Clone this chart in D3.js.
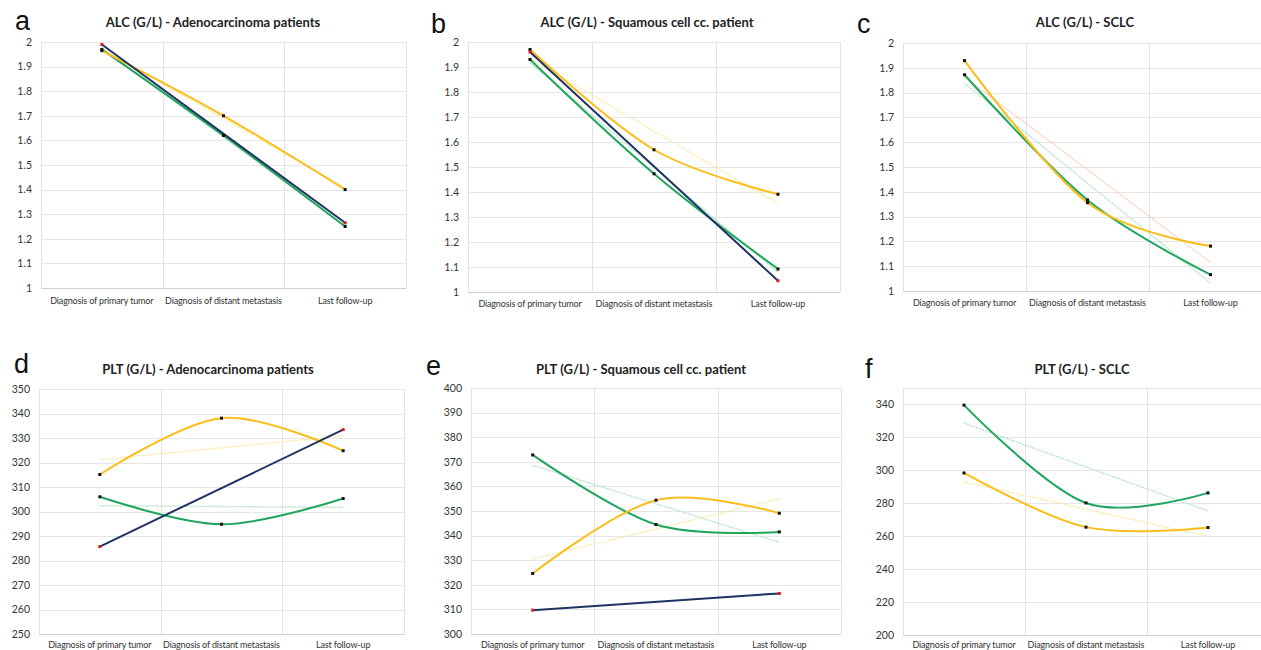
<!DOCTYPE html>
<html>
<head>
<meta charset="utf-8">
<script src="https://cdn.jsdelivr.net/npm/d3@7"></script>
<style>
  body { margin: 0; background: #fff; }
  svg { display: block; }
</style>
</head>
<body>
<div id="chart"></div>
<script>
var stages = ["Diagnosis of primary tumor", "Diagnosis of distant metastasis", "Last follow-up"];

// ALC (G/L)
var alcAdenoGreen  = [1.97, 1.62, 1.25];
var alcAdenoYellow = [1.965, 1.70, 1.40];
var alcAdenoNavy   = [1.99, null, 1.265];
var alcSquamGreen  = [1.93, 1.473, 1.092];
var alcSquamYellow = [1.97, 1.569, 1.391];
var alcSquamNavy   = [1.96, null, 1.045];
var alcSclcGreen   = [1.872, 1.367, 1.066];
var alcSclcYellow  = [1.929, 1.356, 1.181];

// PLT (G/L)
var pltAdenoGreen  = [306, 294.8, 305.3];
var pltAdenoYellow = [315.1, 338.1, 324.8];
var pltAdenoNavy   = [285.7, null, 333.4];
var pltSquamGreen  = [372.8, 344.5, 341.5];
var pltSquamYellow = [324.6, 354.4, 349.1];
var pltSquamNavy   = [309.7, null, 316.5];
var pltSclcGreen   = [339.6, 280.2, 286.3];
var pltSclcYellow  = [298.4, 265.5, 265.3];

// tick labels
var alcTicks      = [1, 1.1, 1.2, 1.3, 1.4, 1.5, 1.6, 1.7, 1.8, 1.9, 2];
var pltAdenoTicks = [250, 260, 270, 280, 290, 300, 310, 320, 330, 340, 350];
var pltSquamTicks = [300, 310, 320, 330, 340, 350, 360, 370, 380, 390, 400];
var pltSclcTicks  = [200, 220, 240, 260, 280, 300, 320, 340];

var GREEN = "#1fa65c", YELLOW = "#fbbd1a", NAVY = "#1f3363";
var GREEN_T = "#a8dfc0", YELLOW_T = "#fbe596", SALMON_T = "#f8c8aa";

var panels = [
  { letter: "a", lx: 15, ly: 30, title: "ALC (G/L) - Adenocarcinoma patients", tx: 213, ty: 27,
    left: 41, right: 406, top: 42, bottom: 288, domain: [1, 2], ticks: alcTicks, labelY: 304,
    series: [[alcAdenoGreen, GREEN, GREEN_T], [alcAdenoYellow, YELLOW, YELLOW_T], [alcAdenoNavy, NAVY, null]] },
  { letter: "b", lx: 431, ly: 33, title: "ALC (G/L) - Squamous cell cc. patient", tx: 647, ty: 27,
    left: 468, right: 840, top: 42, bottom: 292, domain: [1, 2], ticks: alcTicks, labelY: 307,
    series: [[alcSquamGreen, GREEN, GREEN_T], [alcSquamYellow, YELLOW, YELLOW_T], [alcSquamNavy, NAVY, null]] },
  { letter: "c", lx: 857, ly: 33, title: "ALC (G/L) - SCLC", tx: 1085, ty: 27,
    left: 903, right: 1272, top: 43, bottom: 291, domain: [1, 2], ticks: alcTicks, labelY: 306,
    series: [[alcSclcGreen, GREEN, GREEN_T], [alcSclcYellow, YELLOW, SALMON_T]] },
  { letter: "d", lx: 14, ly: 373, title: "PLT (G/L) - Adenocarcinoma patients", tx: 208, ty: 374,
    left: 39, right: 404, top: 389, bottom: 634, domain: [250, 350], ticks: pltAdenoTicks, labelY: 648,
    series: [[pltAdenoGreen, GREEN, GREEN_T], [pltAdenoYellow, YELLOW, YELLOW_T], [pltAdenoNavy, NAVY, null]] },
  { letter: "e", lx: 426, ly: 375, title: "PLT (G/L) - Squamous cell cc. patient", tx: 641, ty: 374,
    left: 471, right: 841, top: 388, bottom: 634, domain: [300, 400], ticks: pltSquamTicks, labelY: 648,
    series: [[pltSquamGreen, GREEN, GREEN_T], [pltSquamYellow, YELLOW, YELLOW_T], [pltSquamNavy, NAVY, null]] },
  { letter: "f", lx: 865, ly: 378, title: "PLT (G/L) - SCLC", tx: 1082, ty: 374,
    left: 903, right: 1269, top: 388, bottom: 635, domain: [200, 350], ticks: pltSclcTicks, labelY: 648,
    series: [[pltSclcGreen, GREEN, GREEN_T], [pltSclcYellow, YELLOW, YELLOW_T]] }
];

var svg = d3.select("#chart").append("svg")
    .attr("width", 1261)
    .attr("height", 650);

var lineGen = d3.line().curve(d3.curveCardinal.tension(0));

panels.forEach(function (p) {
  var g = svg.append("g");
  var x = d3.scaleBand().domain(stages).range([p.left, p.right]);
  var y = d3.scaleLinear().domain(p.domain).range([p.bottom, p.top]);
  var cx = function (s) { return x(s) + x.bandwidth() / 2; };

  // horizontal gridlines
  var hLines = p.ticks.slice();
  if (hLines[hLines.length - 1] < p.domain[1]) hLines.push(p.domain[1]);
  g.selectAll(".hg").data(hLines).enter().append("line")
    .attr("x1", p.left).attr("x2", p.right)
    .attr("y1", function (d) { return Math.round(y(d)) + 0.5; })
    .attr("y2", function (d) { return Math.round(y(d)) + 0.5; })
    .attr("stroke", function (d) { return d === p.domain[0] ? "#d0d0d0" : "#e6e6e6"; })
    .attr("stroke-width", 1);

  // vertical gridlines at category borders
  var vLines = stages.map(function (s) { return x(s); }).concat([p.right]);
  g.selectAll(".vg").data(vLines).enter().append("line")
    .attr("x1", function (d) { return Math.round(d) + 0.5; })
    .attr("x2", function (d) { return Math.round(d) + 0.5; })
    .attr("y1", p.top).attr("y2", p.bottom)
    .attr("stroke", "#e3e3e3");

  // y tick labels
  var yAxis = d3.axisLeft(y).tickValues(p.ticks).tickSize(0).tickPadding(9)
    .tickFormat(function (d) { return String(d); });
  var ax = g.append("g").attr("transform", "translate(" + p.left + ",0)").call(yAxis);
  ax.select(".domain").remove();
  ax.selectAll("text")
    .attr("font-family", "Lato, 'Open Sans', sans-serif")
    .attr("font-size", 10.5).attr("fill", "#333");

  // x labels
  g.selectAll(".xl").data(stages).enter().append("text")
    .attr("x", cx).attr("y", p.labelY)
    .attr("text-anchor", "middle")
    .attr("font-family", "Lato, 'Open Sans', sans-serif")
    .attr("font-size", 9).attr("letter-spacing", "-0.15")
    .attr("fill", "#333")
    .text(function (d) { return d; });

  // title and panel letter
  g.append("text").attr("x", p.tx).attr("y", p.ty).attr("text-anchor", "middle")
    .attr("font-family", "Lato, 'Open Sans', sans-serif").attr("font-weight", "bold")
    .attr("font-size", 13).attr("fill", "#222").text(p.title);
  g.append("text").attr("x", p.lx).attr("y", p.ly)
    .attr("font-family", "'Liberation Sans', Arial, sans-serif")
    .attr("font-size", 27).attr("fill", "#111").text(p.letter);

  // linear trendlines (least squares over the defined points)
  p.series.forEach(function (s) {
    if (!s[2]) return;
    var pts = s[0].map(function (v, i) { return [i, v]; }).filter(function (d) { return d[1] != null; });
    var mx = d3.mean(pts, function (d) { return d[0]; });
    var my = d3.mean(pts, function (d) { return d[1]; });
    var slope = d3.sum(pts, function (d) { return (d[0] - mx) * (d[1] - my); }) /
                d3.sum(pts, function (d) { return (d[0] - mx) * (d[0] - mx); });
    var f = function (i) { return my + slope * (i - mx); };
    g.append("line")
      .attr("x1", cx(stages[0])).attr("y1", y(f(0)))
      .attr("x2", cx(stages[2])).attr("y2", y(f(2)))
      .attr("stroke", s[2]).attr("stroke-width", 1.3)
      .attr("stroke-dasharray", "1.5,1");
  });

  // series lines
  p.series.forEach(function (s) {
    var pts = [];
    s[0].forEach(function (v, i) { if (v != null) pts.push([cx(stages[i]), y(v)]); });
    g.append("path").attr("d", lineGen(pts))
      .attr("fill", "none").attr("stroke", s[1]).attr("stroke-width", 2);
  });

  // markers
  p.series.forEach(function (s) {
    var pts = [];
    s[0].forEach(function (v, i) { if (v != null) pts.push([cx(stages[i]), y(v)]); });
    g.selectAll(null).data(pts).enter().append("rect")
      .attr("x", function (d) { return d[0] - 1.5; })
      .attr("y", function (d) { return d[1] - 1.5; })
      .attr("width", 3).attr("height", 3)
      .attr("fill", s[1] === NAVY ? "#d81e1e" : "#111");
  });
});
</script>
</body>
</html>
